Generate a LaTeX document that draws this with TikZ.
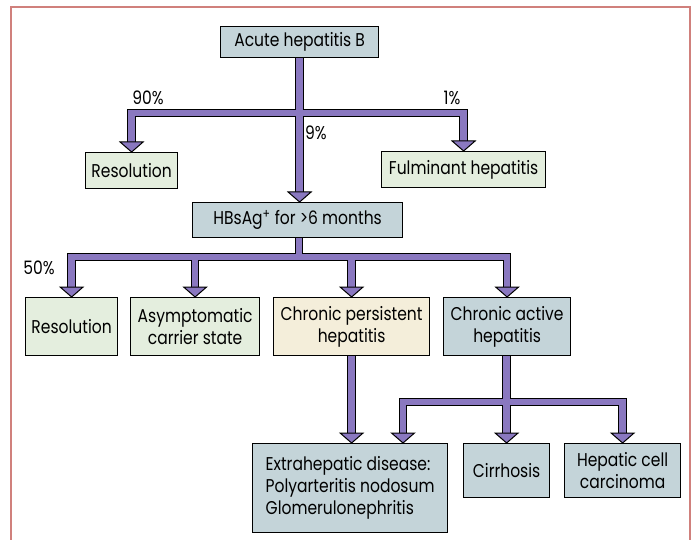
\documentclass[tikz,border=0pt]{standalone}
\usepackage{fontspec}
\setmainfont[FakeStretch=0.84]{Poppins}
\usetikzlibrary{calc}
\definecolor{framecol}{RGB}{208,128,124}
\definecolor{bluebox}{RGB}{196,212,217}
\definecolor{greenbox}{RGB}{228,238,222}
\definecolor{creambox}{RGB}{244,238,218}
\definecolor{arrowfill}{RGB}{138,120,192}
\newcommand{\ahead}[1]{\filldraw[headstyle] ($#1+(-11.5,-10)$) -- #1 -- ($#1+(11.5,-10)$) -- cycle;}
\begin{document}
\begin{tikzpicture}[x=1pt,y=-1pt,
  box/.style={draw=black, line width=1.2pt, anchor=north west, inner sep=0pt, align=center,
    font=\fontsize{18.5}{22}\selectfont},
  lbl/.style={font=\fontsize{18.5}{22}\selectfont, inner sep=0pt},
  shaftout/.style={draw=black, line width=8.5pt, line join=miter, line cap=butt},
  shaftin/.style={draw=arrowfill, line width=6.3pt, line join=miter, line cap=butt},
  headstyle/.style={fill=arrowfill, draw=black, line width=1pt, line join=miter}]
\useasboundingbox (0,0) rectangle (696,540);
\fill[white] (0,0) rectangle (696,540);
\draw[framecol, line width=2pt] (11,541) -- (11,7) -- (690,7) -- (690,541);

% boxes
\node[box, fill=bluebox, minimum width=158pt, minimum height=31pt] (acute) at (220,26) {Acute hepatitis B};
\node[box, fill=greenbox, minimum width=92pt, minimum height=36pt] (res1) at (85,152) {Resolution};
\node[box, fill=greenbox, minimum width=164pt, minimum height=36pt] (fulm) at (381,151) {Fulminant hepatitis};
\node[box, fill=bluebox, minimum width=210pt, minimum height=35pt] (hbs) at (192,202) {HBsAg\textsuperscript{+} for {>}6 months};
\node[box, fill=greenbox, minimum width=92pt, minimum height=58pt] (res2) at (25,297) {Resolution};
\node[box, fill=greenbox, minimum width=129pt, minimum height=58pt] (asym) at (130,297) {Asymptomatic\\carrier state};
\node[box, fill=creambox, minimum width=156pt, minimum height=58pt] (cph) at (273,297) {Chronic persistent\\hepatitis};
\node[box, fill=bluebox, minimum width=127pt, minimum height=58pt] (cah) at (443,297) {Chronic active\\hepatitis};
\node[box, fill=bluebox, minimum width=195pt, minimum height=89pt, align=left] (extra) at (252,443) {Extrahepatic disease:\\Polyarteritis nodosum\\Glomerulonephritis};
\node[box, fill=bluebox, minimum width=86pt, minimum height=54pt] (cirr) at (463,443) {Cirrhosis};
\node[box, fill=bluebox, minimum width=116pt, minimum height=54pt] (hcc) at (564,443) {Hepatic cell\\carcinoma};

% labels
\node[lbl] (p90) at (148,98) {90\%};
\node[lbl] (p1) at (452,98) {1\%};
\node[lbl, anchor=west] (p9) at (305,133) {9\%};
\node[lbl] (p50) at (39,268) {50\%};

% junction coordinates
\coordinate (tb) at (299,113);
\coordinate (lb) at (299,257);
\coordinate (bb) at (506,402);
\coordinate (ea) at ($(extra.north west)+(151,0)$);
\coordinate (hbtop) at (acute.south |- hbs.north);
\coordinate (ctop) at (cph.south |- extra.north);

% shafts: outlines then fills
\foreach \s in {shaftout, shaftin}{
  \draw[\s] ($(res1.north)+(0,-7)$) -- (res1.north |- tb) -- (fulm.north |- tb) -- ($(fulm.north)+(0,-7)$);
  \draw[\s] (acute.south) -- ($(hbtop)+(0,-7)$);
  \draw[\s] ($(res2.north)+(0,-7)$) -- (res2.north |- lb) -- (cah.north |- lb) -- ($(cah.north)+(0,-7)$);
  \draw[\s] (hbs.south -| lb) -- (lb);
  \draw[\s] (asym.north |- lb) -- ($(asym.north)+(0,-7)$);
  \draw[\s] (cph.north |- lb) -- ($(cph.north)+(0,-7)$);
  \draw[\s] (cph.south) -- ($(ctop)+(0,-7)$);
  \draw[\s] (cirr.north |- cah.south) -- ($(cirr.north)+(0,-7)$);
  \draw[\s] ($(ea)+(0,-7)$) -- (ea |- bb) -- (hcc.north |- bb) -- ($(hcc.north)+(0,-7)$);
}
\draw[shaftin] (res1.north |- tb) -- (fulm.north |- tb);
\draw[shaftin] (res2.north |- lb) -- (cah.north |- lb);
\draw[shaftin] (ea |- bb) -- (hcc.north |- bb);

% arrowheads
\ahead{(res1.north)}
\ahead{(fulm.north)}
\ahead{(hbtop)}
\ahead{(res2.north)}
\ahead{(asym.north)}
\ahead{(cph.north)}
\ahead{(cah.north)}
\ahead{(ctop)}
\ahead{(ea)}
\ahead{(cirr.north)}
\ahead{(hcc.north)}
\end{tikzpicture}
\end{document}
